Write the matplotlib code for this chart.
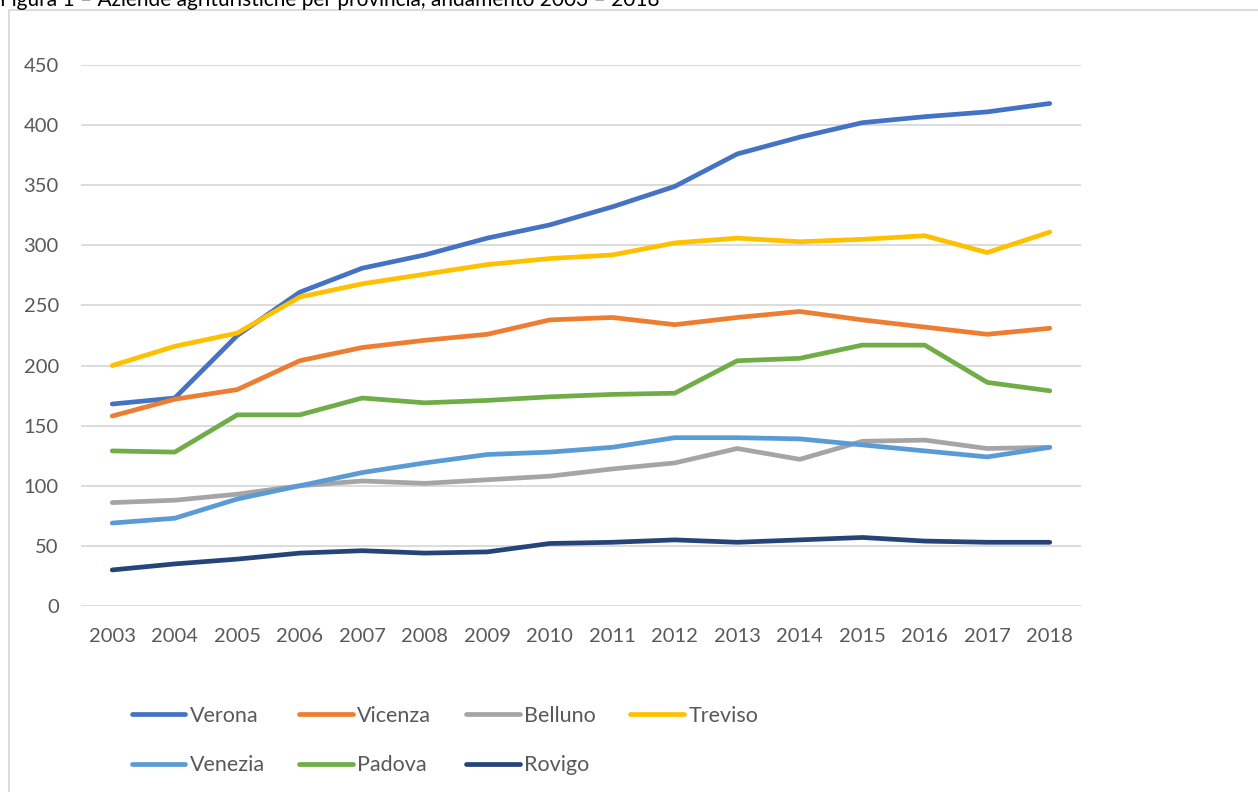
import matplotlib.pyplot as plt
from matplotlib.patches import Rectangle

years = list(range(2003, 2019))

verona = [168, 173, 225, 261, 281, 292, 306, 317, 332, 349, 376, 390, 402, 407, 411, 418]
vicenza = [158, 172, 180, 204, 215, 221, 226, 238, 240, 234, 240, 245, 238, 232, 226, 231]
belluno = [86, 88, 93, 100, 104, 102, 105, 108, 114, 119, 131, 122, 137, 138, 131, 132]
treviso = [200, 216, 227, 257, 268, 276, 284, 289, 292, 302, 306, 303, 305, 308, 294, 311]
venezia = [69, 73, 89, 100, 111, 119, 126, 128, 132, 140, 140, 139, 134, 129, 124, 132]
padova = [129, 128, 159, 159, 173, 169, 171, 174, 176, 177, 204, 206, 217, 217, 186, 179]
rovigo = [30, 35, 39, 44, 46, 44, 45, 52, 53, 55, 53, 55, 57, 54, 53, 53]

series = [
    ('Verona', verona, '#4472C4'),
    ('Vicenza', vicenza, '#ED7D31'),
    ('Belluno', belluno, '#A5A5A5'),
    ('Treviso', treviso, '#FFC000'),
    ('Venezia', venezia, '#5B9BD5'),
    ('Padova', padova, '#70AD47'),
    ('Rovigo', rovigo, '#264478'),
]

plt.rcParams['font.family'] = ['Lato', 'DejaVu Sans']

fig = plt.figure(figsize=(12.58, 7.92), dpi=100)
ax = fig.add_axes([81/1258, 1-606/792, 1000/1258, 541/792])

# chart frame (cut off on the right and bottom)
fig.patches.append(Rectangle((9/1258, -0.05), 1.2, 1.05 - 10/792, transform=fig.transFigure,
                             fill=False, edgecolor='#D9D9D9', linewidth=1.3))

fig.text(0.0, 1 - 6/792, 'Figura 1 – Aziende agrituristiche per provincia, andamento 2003 – 2018',
         fontsize=15, color='black', va='baseline', ha='left')

handles = {}
for name, vals, col in series:
    h, = ax.plot(years, vals, color=col, linewidth=3.4, solid_capstyle='round',
                 solid_joinstyle='round', label=name)
    handles[name] = h

ax.set_xlim(2002.5, 2018.5)
ax.set_ylim(0, 450)
ax.set_yticks(range(0, 451, 50))
ax.set_xticks(years)
ax.grid(axis='y', color='#D9D9D9', linewidth=1.3)
ax.set_axisbelow(True)
for s in ax.spines.values():
    s.set_visible(False)
ax.tick_params(length=0, labelsize=14.5, labelcolor='#595959', pad=16)

order = ['Verona', 'Venezia', 'Vicenza', 'Padova', 'Belluno', 'Rovigo', 'Treviso']
leg = fig.legend([handles[n] for n in order], order, ncol=4, loc='upper left',
                 bbox_to_anchor=(123/1258, 1-697/792), frameon=False, fontsize=15.5,
                 handlelength=2.5, handletextpad=0.2, columnspacing=1.6,
                 labelspacing=1.38, borderaxespad=0)
for t in leg.get_texts():
    t.set_color('#595959')

fig.savefig('out.png', dpi=100)
